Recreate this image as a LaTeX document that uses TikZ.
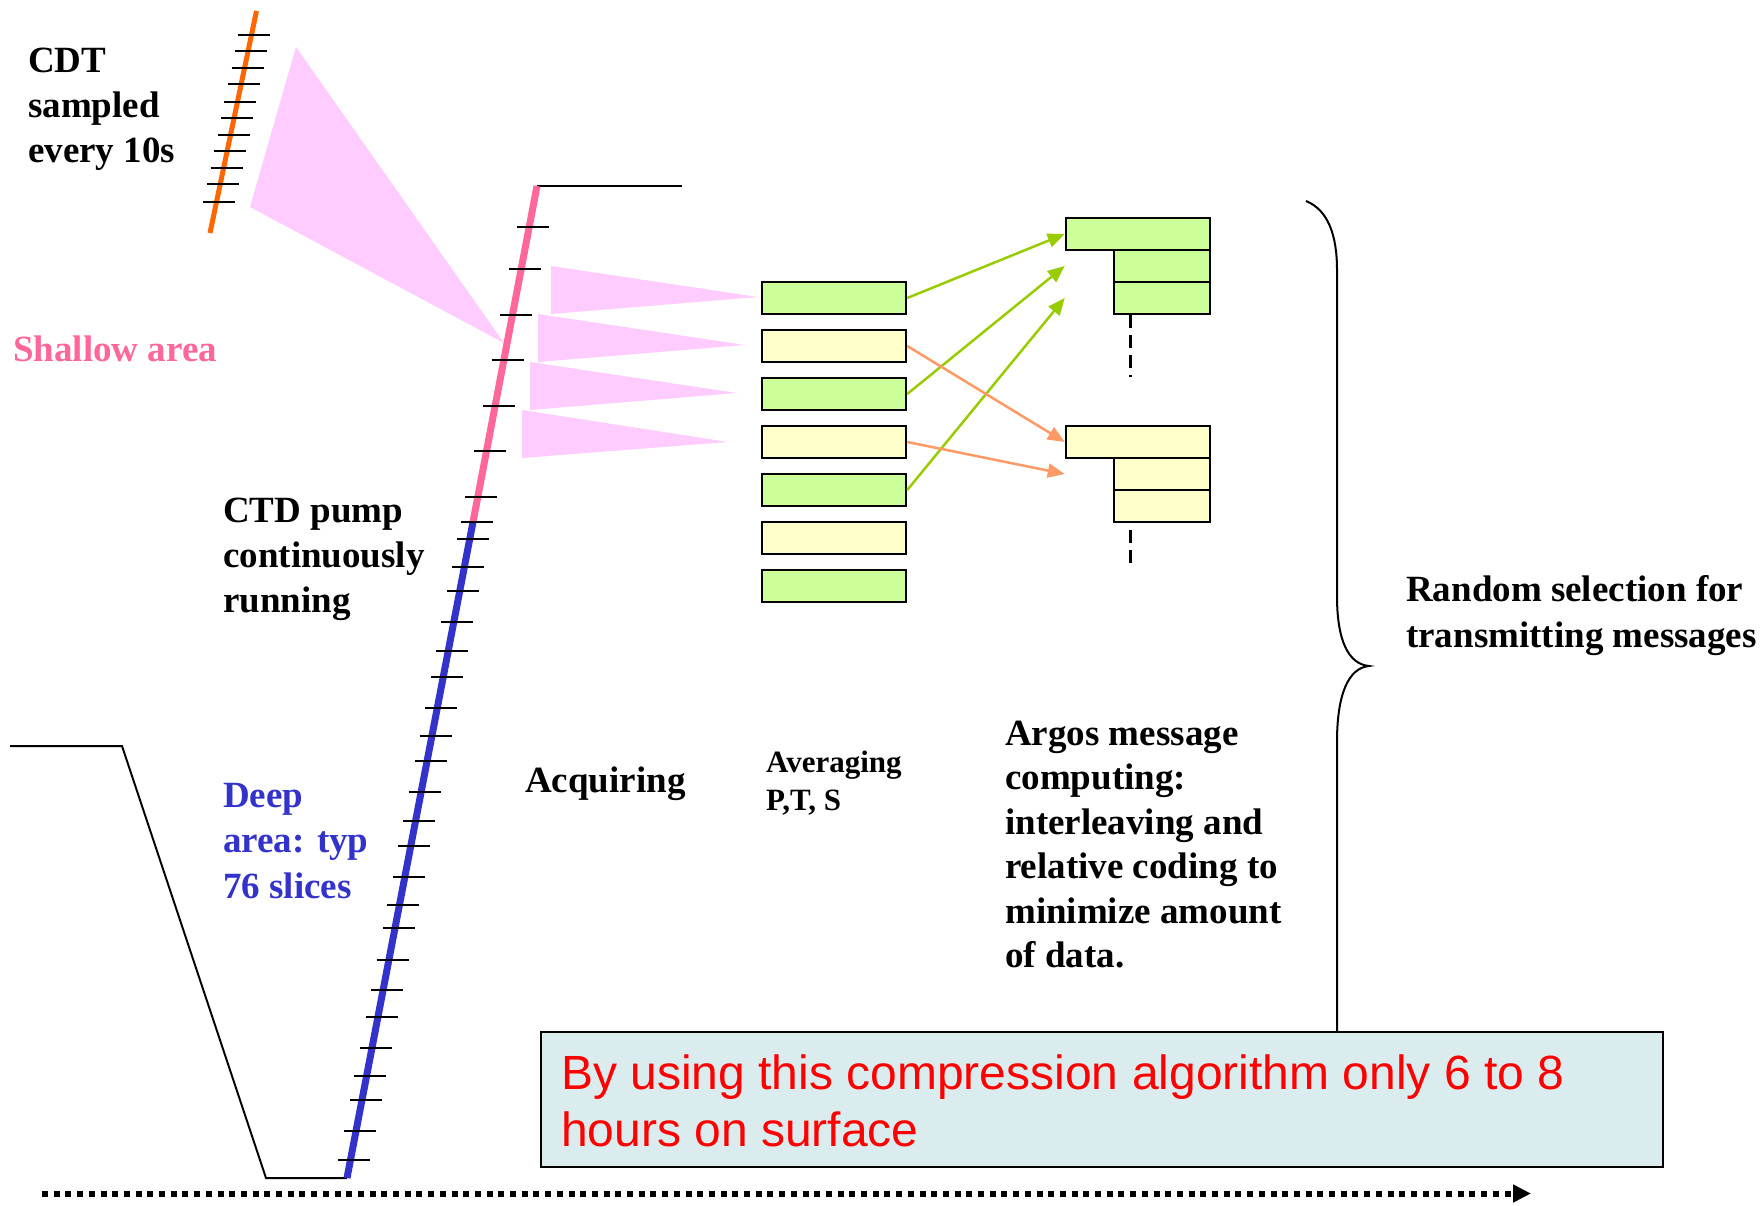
\documentclass[tikz,border=0pt]{standalone}
\usepackage{fontspec}
\setmainfont{Liberation Serif}
\newfontfamily\arialf{Liberation Sans}
\usetikzlibrary{arrows.meta}
\definecolor{cOrange}{HTML}{FF6600}
\definecolor{cPinkFill}{HTML}{FFCCFF}
\definecolor{cShallow}{HTML}{FF6699}
\definecolor{cDeep}{HTML}{3333CC}
\definecolor{cGreenBox}{HTML}{CCFF99}
\definecolor{cYellowBox}{HTML}{FFFFCC}
\definecolor{cGreenArrow}{HTML}{99CC00}
\definecolor{cOrangeArrow}{HTML}{FF9966}
\definecolor{cNote}{RGB}{218,236,238}
\definecolor{cRed}{HTML}{FF0000}
\newcommand{\mystack}[2]{\vtop{\baselineskip=#1\lineskiplimit=-1000pt\lineskip=0pt #2}}
\tikzset{
  txt/.style={anchor=base west, inner sep=0pt, font=\fontsize{37}{45}\selectfont\bfseries},
  tick/.style={line width=2pt, black},
  surf/.style={line width=2pt, black},
  gbox/.style={draw, line width=2.5pt, fill=cGreenBox, minimum height=32pt, inner sep=0pt},
  ybox/.style={draw, line width=2.5pt, fill=cYellowBox, minimum height=32pt, inner sep=0pt},
  garrow/.style={line width=2.5pt, cGreenArrow, -{Triangle[length=17pt,width=14pt]}},
  oarrow/.style={line width=2.5pt, cOrangeArrow, -{Triangle[length=17pt,width=14pt]}},
  pinktri/.style={fill=cPinkFill, draw=none},
  vdash/.style={line width=3pt, dash pattern=on 13pt off 7pt},
}
\begin{document}
\begin{tikzpicture}[x=1pt,y=-1pt]
\useasboundingbox (0,0) rectangle (1764,1206);

% pink fans
\fill[pinktri] (296,47) -- (250,207) -- (504,343) -- cycle;
\fill[pinktri] (551,266) -- (551,314) -- (758,297) -- cycle;
\fill[pinktri] (538,314) -- (538,362) -- (745,345) -- cycle;
\fill[pinktri] (530,362) -- (530,410) -- (737,393) -- cycle;
\fill[pinktri] (522,410) -- (522,458) -- (728,442) -- cycle;

% CDT sampled line (orange)
\coordinate (oTop) at (256.5,11);
\coordinate (oBot) at (210,233);
\draw[line width=5pt, cOrange] (oTop) -- (oBot);
\foreach \ty in {35,51,68,84,102,118,135,151,168,184,202} {
  \pgfmathsetmacro\tx{256.5-0.2095*(\ty-11)}
  \draw[tick] (\tx-13,\ty) -- (\tx+19,\ty);
}

% profile
\coordinate (top) at (537,186);
\coordinate (mid) at (473,522);
\coordinate (bot) at (347,1178);
\coordinate (sR) at (682,186);
\coordinate (lsL) at (10,746);
\coordinate (lsR) at (122,746);
\coordinate (lbL) at (266,1178);
\draw[surf] (top) -- (sR);
\draw[surf] (lsL) -- (lsR) -- (lbL) -- (bot);
\draw[line width=7pt, cShallow] (top) -- (mid);
\draw[line width=7pt, cDeep] (mid) -- (bot);
\foreach \ty in {227,269,315,360,406,451,497,522,539,567,591,622,651,677,708,736,761,792,821,846,877,905,928,960,990,1017,1048,1076,1100,1131,1160} {
  \pgfmathsetmacro\tx{537-0.1917*(\ty-186)}
  \draw[tick] (\tx-12,\ty) -- (\tx+20,\ty);
}

% averaged slices
\node[gbox, minimum width=144pt] (b1) at (834,298) {};
\node[ybox, minimum width=144pt] (b2) at (834,346) {};
\node[gbox, minimum width=144pt] (b3) at (834,394) {};
\node[ybox, minimum width=144pt] (b4) at (834,442) {};
\node[gbox, minimum width=144pt] (b5) at (834,490) {};
\node[ybox, minimum width=144pt] (b6) at (834,538) {};
\node[gbox, minimum width=144pt] (b7) at (834,586) {};

% message blocks
\node[gbox, minimum width=144pt] (m1) at (1138,234) {};
\node[gbox, minimum width=96pt] (m1a) at (1162,266) {};
\node[gbox, minimum width=96pt] (m1b) at (1162,298) {};
\node[ybox, minimum width=144pt] (n1) at (1138,442) {};
\node[ybox, minimum width=96pt] (n1a) at (1162,474) {};
\node[ybox, minimum width=96pt] (n1b) at (1162,506) {};
\coordinate (d1s) at (1130,315);
\coordinate (d1e) at (1130,377);
\coordinate (d2s) at (1130,530);
\coordinate (d2e) at (1130,569);
\draw[vdash] (d1s) -- (d1e);
\draw[vdash] (d2s) -- (d2e);

% connectors
\draw[garrow] (b1.east) -- (m1.west);
\draw[garrow] (b3.east) -- (m1.west |- m1a.west);
\draw[garrow] (b5.east) -- (m1.west |- m1b.west);
\draw[oarrow] (b2.east) -- (n1.west);
\draw[oarrow] (b4.east) -- (n1.west |- n1a.west);

% note box
\node[draw, line width=2.5pt, fill=cNote, minimum width=1122pt, minimum height=135pt, inner sep=0pt] (note) at (1102,1099.5) {};
\node[anchor=base west, inner sep=0pt, text=cRed, font=\arialf\fontsize{48}{57}\selectfont] (notetext) at (561,1089)
  {\mystack{57pt}{\hbox{By using this compression algorithm only 6 to 8}\hbox{hours on surface}}};

% brace
\coordinate (brTop) at (1306,201);
\coordinate (brA) at (1337,270);
\coordinate (brB) at (1337,596);
\coordinate (brTip) at (1369,666);
\coordinate (brC) at (1337,742);
\draw[line width=2pt] (brTop) .. controls (1328,210) and (1337,235) .. (brA) -- (brB)
  .. controls (1337,640) and (1348,664) .. (brTip)
  .. controls (1348,668) and (1337,695) .. (brC) -- (brC |- note.north);

% time axis
\coordinate (axS) at (42,1193.5);
\coordinate (axE) at (1531,1193.5);
\draw[line width=6pt, dash pattern=on 6pt off 5.7pt, -{Triangle[length=18pt,width=17pt]}] (axS) -- (axE);

% labels
\node[txt] (lcdt) at (28,73) {\mystack{45pt}{\hbox{CDT}\hbox{sampled}\hbox{every 10s}}};
\node[txt, text=cShallow] (lshallow) at (13,361) {Shallow area};
\node[txt] (lctd) at (223,522) {\mystack{45pt}{\hbox{CTD pump}\hbox{continuously}\hbox{running}}};
\node[txt, text=cDeep] (ldeep) at (223,807) {\mystack{45.5pt}{\hbox{Deep}\hbox{area: typ}\hbox{76 slices}}};
\node[txt] (lacq) at (525,792) {Acquiring};
\node[txt, font=\fontsize{31}{38}\selectfont\bfseries] (lavg) at (766,772) {\mystack{38pt}{\hbox{Averaging}\hbox{P,T, S}}};
\node[txt] (largos) at (1005,745) {\mystack{44.5pt}{\hbox{Argos message}\hbox{computing:}\hbox{interleaving and}\hbox{relative coding to}\hbox{minimize amount}\hbox{of data.}}};
\node[txt] (lrand) at (1406,601) {\mystack{46pt}{\hbox{Random selection for}\hbox{transmitting messages}}};
\end{tikzpicture}
\end{document}
